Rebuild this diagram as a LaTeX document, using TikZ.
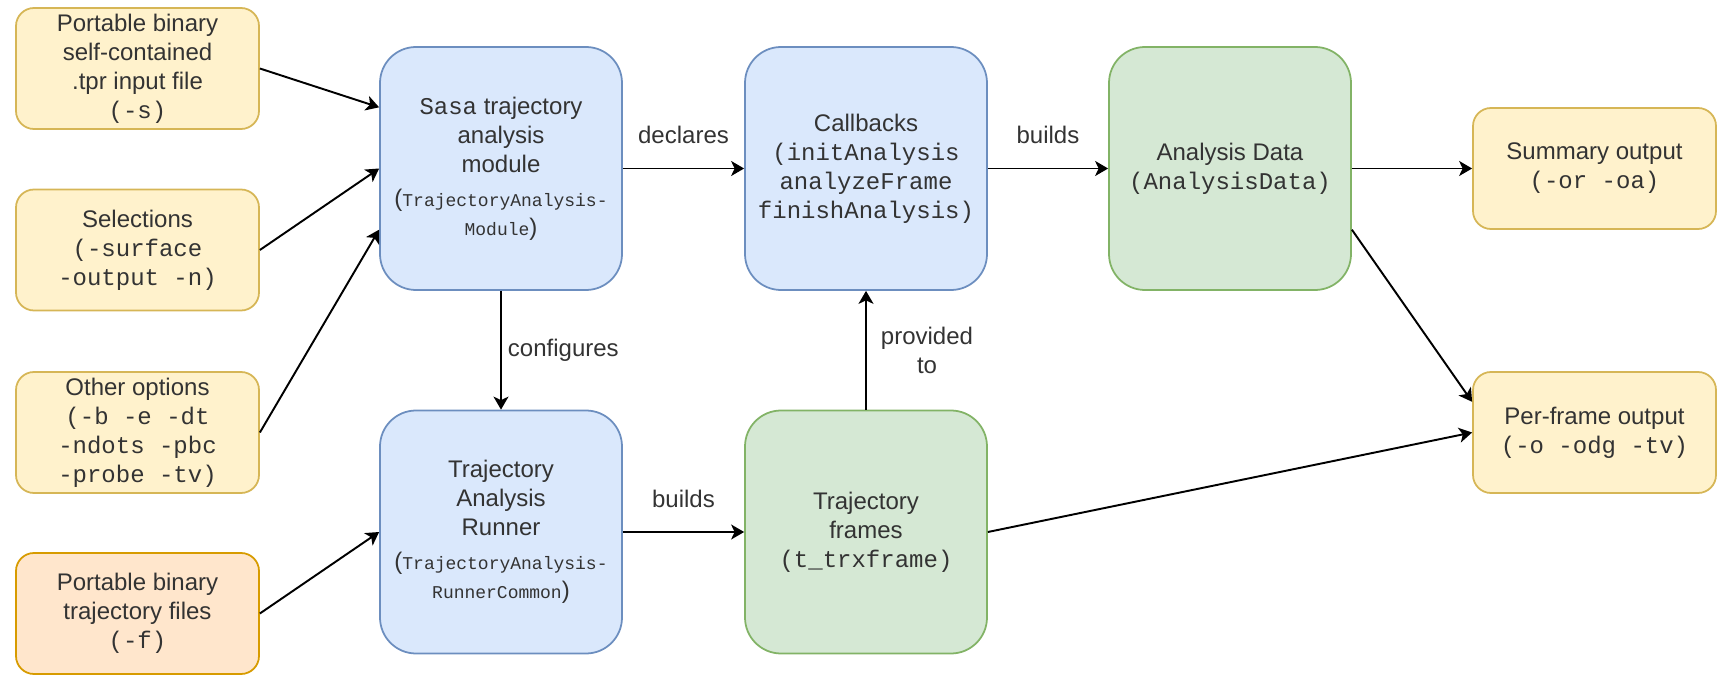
\documentclass[tikz,border=0pt]{standalone}
\usepackage{fontspec}
\setmainfont{Liberation Sans}
\setmonofont{Liberation Mono}
\usepackage{xcolor}
\usetikzlibrary{arrows.meta,calc}

\definecolor{ylwfill}{HTML}{FFF2CC}
\definecolor{ylwline}{HTML}{D6B656}
\definecolor{orgfill}{HTML}{FFE6CC}
\definecolor{orgline}{HTML}{D79B00}
\definecolor{blufill}{HTML}{DAE8FC}
\definecolor{bluline}{HTML}{6C8EBF}
\definecolor{grnfill}{HTML}{D5E8D4}
\definecolor{grnline}{HTML}{82B366}
\definecolor{txtgray}{HTML}{333333}

% smaller typewriter text for the long class names
\newcommand{\smalltt}[1]{{\fontsize{10.24}{16.5}\selectfont\ttfamily #1}}

\begin{document}
\begin{tikzpicture}[
        every node/.style={font=\fontsize{13.66}{16.5}\selectfont, text=txtgray},
        optbox/.style={draw=ylwline, fill=ylwfill, line width=1pt, rounded corners=0.36cm,
            minimum width=4.86cm, minimum height=2.42cm, align=center, inner sep=0},
        filebox/.style={optbox, draw=orgline, fill=orgfill},
        codebox/.style={draw=bluline, fill=blufill, line width=1pt, rounded corners=0.72cm,
            minimum width=4.84cm, minimum height=4.86cm, align=center, inner sep=0},
        databox/.style={codebox, draw=grnline, fill=grnfill},
        flow/.style={line width=1.1pt, -{Stealth[length=0.26cm, width=0.3cm, inset=0.07cm]}},
        lbl/.style={inner sep=0, align=center}
    ]
        \useasboundingbox (0,0) rectangle (34.48,13.5);

        % 1. COMMAND LINE INPUTS (left column)
        \node[optbox] (tpr) at (2.75,12.13) {Portable binary\\self-contained\\.tpr input file\\\texttt{(-s)}};
        \node[optbox] (sel) at (2.75,8.50) {Selections\\\texttt{(-surface}\\\texttt{-output -n)}};
        \node[optbox] (opt) at (2.75,4.85) {Other options\\\texttt{(-b -e -dt}\\\texttt{-ndots -pbc}\\\texttt{-probe -tv)}};
        \node[filebox] (trj) at (2.75,1.23) {Portable binary\\trajectory files\\\texttt{(-f)}};

        % 2. MODULE AND RUNNER
        \node[codebox] (mod) at (10.02,10.13) {\texttt{Sasa} trajectory\\analysis\\module\\[0.1cm](\smalltt{TrajectoryAnalysis-}\\\smalltt{Module})};
        \node[codebox] (run) at (10.02,2.86) {Trajectory\\Analysis\\Runner\\[0.1cm](\smalltt{TrajectoryAnalysis-}\\\smalltt{RunnerCommon})};

        % 3. CALLBACKS AND FRAMES
        \node[codebox] (cb) at (17.32,10.13) {Callbacks\\\texttt{(initAnalysis}\\\texttt{analyzeFrame}\\\texttt{finishAnalysis)}};
        \node[databox] (frm) at (17.32,2.86) {Trajectory\\frames\\\texttt{(t\_trxframe)}};

        % 4. DATA AND OUTPUTS
        \node[databox] (ad) at (24.60,10.13) {Analysis Data\\\texttt{(AnalysisData)}};
        \node[optbox] (sum) at (31.89,10.13) {Summary output\\\texttt{(-or -oa)}};
        \node[optbox] (pf) at (31.89,4.85) {Per-frame output\\\texttt{(-o -odg -tv)}};

        % inputs feeding the module / runner
        \draw[flow] (tpr.east) -- ($(mod.west)!0.5!(mod.north west)$);
        \draw[flow] (sel.east) -- (mod.west);
        \draw[flow] (opt.east) -- ($(mod.west)!0.5!(mod.south west)$);
        \draw[flow] (trj.east) -- (run.west);

        % main flow
        \draw[flow] (mod.east) -- (cb.west) node[lbl, midway, above=0.47cm] {declares};
        \draw[flow] (mod.south) -- (run.north) node[lbl, midway, right=0.12cm] {configures};
        \draw[flow] (run.east) -- (frm.west) node[lbl, midway, above=0.47cm] {builds};
        \draw[flow] (frm.north) -- (cb.south) node[lbl, midway, right=0.28cm] {provided\\to};
        \draw[flow] (cb.east) -- (ad.west) node[lbl, midway, above=0.47cm] {builds};

        % outputs
        \draw[flow] (ad.east) -- (sum.west);
        \draw[flow] ($(ad.east)!0.5!(ad.south east)$) -- ($(pf.west)!0.5!(pf.north west)$);
        \draw[flow] (frm.east) -- (pf.west);

    \end{tikzpicture}
\end{document}
